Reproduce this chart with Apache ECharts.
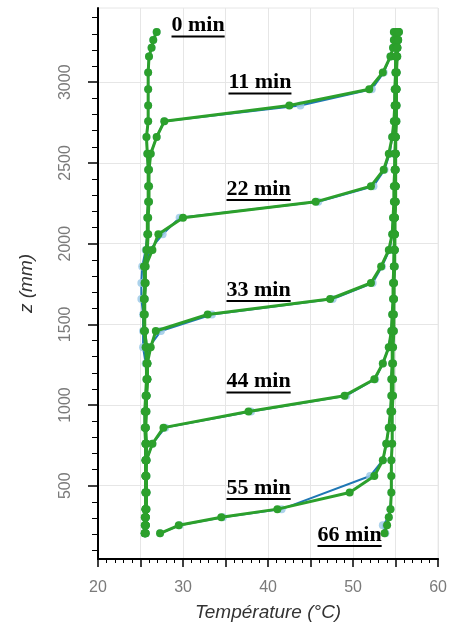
<!DOCTYPE html>
<html><head><meta charset="utf-8">
<script src="https://cdn.jsdelivr.net/npm/echarts@6/dist/echarts.min.js"></script>
<style>html,body{margin:0;padding:0;background:#fff}#c{width:450px;height:627px}</style>
</head><body><div id="c"></div>
<script>
// Sensor heights (mm)
const Z = [205, 255, 305, 355, 458, 560, 658, 760, 860, 960, 1058, 1160, 1258, 1358, 1459, 1561, 1657, 1756, 1859, 1961, 2058, 2160, 2259, 2356, 2458, 2557, 2661, 2758, 2856, 2957, 3060, 3160, 3213, 3262, 3312];

// Green profiles (°C) at each height
const G_00 = [25.5, 25.5, 25.5, 25.6, 25.6, 25.6, 25.6, 25.6, 25.5, 25.5, 25.6, 25.7, 25.7, 25.6, 25.4, 25.4, 25.4, 25.5, 25.4, 25.7, 25.8, 25.8, 25.9, 25.9, 25.9, 25.8, 25.7, 25.9, 25.9, 25.9, 25.9, 26.0, 26.3, 26.5, 26.9];
const G_11 = [25.5, 25.6, 25.6, 25.7, 25.7, 25.6, 25.7, 25.7, 25.6, 25.6, 25.7, 25.8, 25.8, 25.7, 25.5, 25.5, 25.5, 25.6, 25.5, 25.8, 25.9, 25.9, 26.0, 26.0, 26.0, 26.2, 26.9, 27.8, 42.5, 51.9, 53.5, 54.4, 54.7, 54.8, 54.8];
const G_22 = [25.6, 25.6, 25.6, 25.6, 25.7, 25.7, 25.6, 25.6, 25.6, 25.7, 25.7, 25.8, 25.8, 25.7, 25.5, 25.4, 25.4, 25.5, 25.6, 26.4, 27.1, 30.0, 45.6, 52.1, 53.6, 54.2, 54.6, 54.8, 54.9, 54.9, 55.0, 55.0, 55.1, 55.1, 55.2];
const G_33 = [25.6, 25.6, 25.6, 25.6, 25.6, 25.6, 25.6, 25.6, 25.6, 25.6, 25.7, 25.8, 25.8, 26.2, 26.8, 32.9, 47.3, 52.1, 53.3, 54.2, 54.6, 54.7, 54.8, 54.8, 54.9, 54.9, 55.0, 55.0, 54.9, 55.0, 55.0, 55.1, 55.1, 55.2, 55.2];
const G_44 = [25.5, 25.6, 25.6, 25.6, 25.6, 25.6, 25.7, 26.4, 27.7, 37.7, 49.0, 52.5, 53.5, 54.2, 54.5, 54.6, 54.7, 54.7, 54.8, 54.8, 54.9, 54.9, 54.9, 55.0, 54.9, 55.0, 55.0, 55.0, 55.0, 55.1, 55.1, 55.1, 55.2, 55.2, 55.3];
const G_55 = [27.3, 29.5, 34.5, 41.1, 49.6, 52.5, 53.5, 53.9, 54.2, 54.4, 54.5, 54.5, 54.6, 54.6, 54.7, 54.7, 54.8, 54.8, 54.8, 54.9, 54.9, 54.9, 55.0, 55.0, 55.0, 55.0, 55.0, 55.1, 55.1, 55.1, 55.1, 55.2, 55.2, 55.3, 55.3];
const G_66 = [53.7, 54.0, 54.2, 54.4, 54.5, 54.5, 54.5, 54.6, 54.6, 54.6, 54.7, 54.7, 54.7, 54.7, 54.8, 54.8, 54.8, 54.8, 54.9, 54.9, 54.9, 54.9, 55.0, 55.0, 55.0, 55.0, 55.0, 55.0, 55.1, 55.1, 55.1, 55.1, 55.2, 55.3, 55.4];

// Blue profiles (°C), null = no reading
const B_00 = [25.5, 25.5, 25.5, 25.6, 25.6, 25.6, 25.6, 25.6, 25.5, 25.5, 25.6, 25.7, 25.6, 25.3, 25.3, 25.3, 25.1, 25.1, 25.2, 25.6, 25.8, 25.8, 25.9, 25.9, 25.9, 25.8, 25.7, 25.9, 25.9, 25.9, 25.9, 26.0, 26.3, 26.5, 26.9];
const B_11 = [25.5, 25.6, 25.6, 25.7, 25.7, 25.6, 25.7, 25.7, 25.6, 25.6, 25.7, 25.8, 25.8, 25.7, 25.5, 25.5, 25.5, 25.6, 25.5, 25.8, 25.9, 25.9, 26.0, 26.0, 26.0, 26.2, 26.9, 27.8, 43.8, 52.2, 53.6, 54.4, 54.7, 54.8, 54.8];
const B_22 = [25.6, 25.6, 25.6, 25.6, 25.7, 25.7, 25.6, 25.6, 25.6, 25.7, 25.7, 25.8, 25.8, 25.7, 25.5, 25.4, 25.4, 25.5, 25.6, 26.1, 27.6, 29.6, 45.9, 52.4, 53.7, 54.3, 54.6, 54.8, 54.9, 54.9, 55.0, 55.0, 55.1, 55.1, 55.2];
const B_33 = [25.6, 25.6, 25.6, 25.6, 25.6, 25.6, 25.6, 25.6, 25.6, 25.6, 25.7, 25.8, 25.8, 26.0, 27.4, 33.4, 47.6, 52.3, 53.4, 54.3, 54.6, 54.7, 54.8, 54.8, 54.9, 54.9, 55.0, 55.0, 54.9, 55.0, 55.0, 55.1, 55.1, 55.2, 55.2];
const B_44 = [25.5, 25.6, 25.6, 25.6, 25.6, 25.6, 25.7, 26.4, 27.9, 38.0, 49.2, 52.6, 53.5, 54.2, 54.5, 54.6, 54.7, 54.7, 54.8, 54.8, 54.9, 54.9, 54.9, 55.0, 54.9, 55.0, 55.0, 55.0, 55.0, 55.1, 55.1, 55.1, 55.2, 55.2, 55.3];
const B_55 = [27.3, 29.6, 34.7, 41.6, null, 52.0, 53.5, 53.9, 54.2, 54.4, 54.5, 54.5, 54.6, 54.6, 54.7, 54.7, 54.8, 54.8, 54.8, 54.9, 54.9, 54.9, 55.0, 55.0, 55.0, 55.0, 55.0, 55.1, 55.1, 55.1, 55.1, 55.2, 55.2, 55.3, 55.3];
const B_66 = [53.8, 53.5, 54.2, 54.4, 54.5, 54.5, 54.5, 54.6, 54.6, 54.6, 54.7, 54.7, 54.7, 54.7, 54.8, 54.8, 54.8, 54.8, 54.9, 54.9, 54.9, 54.9, 55.0, 55.0, 55.0, 55.0, 55.0, 55.0, 55.1, 55.1, 55.1, 55.1, 55.2, 55.3, 55.4];

const TIME_LABELS = ['0 min', '11 min', '22 min', '33 min', '44 min', '55 min', '66 min'];
const GREEN = [G_00, G_11, G_22, G_33, G_44, G_55, G_66];
const BLUE = [B_00, B_11, B_22, B_33, B_44, B_55, B_66];

const X_MIN = 20, X_MAX = 60;
const Y_MIN = 46, Y_MAX = 3460;
const Y_MAJOR = [500, 1000, 1500, 2000, 2500, 3000];
const Y_MINOR = [100, 200, 300, 400, 600, 700, 800, 900, 1100, 1200, 1300, 1400, 1600, 1700, 1800, 1900, 2100, 2200, 2300, 2400, 2600, 2700, 2800, 2900, 3100, 3200, 3300, 3400];

// annotation placement (pixels: left, baseline)
const LABEL_POS = [[171.5, 31.5], [228.5, 88.5], [226.5, 195], [226.5, 296], [226.5, 387.5], [226.5, 494], [317.5, 541]];

function toPairs(T) {
  const out = [];
  T.forEach((t, i) => { if (t !== null) out.push([t, Z[i]]); });
  return out;
}

const series = [];
BLUE.forEach((T, k) => {
  series.push({
    name: 'B ' + TIME_LABELS[k], type: 'line', data: toPairs(T),
    xAxisIndex: 0, yAxisIndex: 0,
    symbol: 'circle', symbolSize: 8, showSymbol: true,
    lineStyle: { color: '#1f77b4', width: 2 },
    itemStyle: { color: 'rgba(158,202,232,0.85)' },
    z: 2, animation: false, silent: true
  });
});
GREEN.forEach((T, k) => {
  series.push({
    name: TIME_LABELS[k], type: 'line', data: toPairs(T),
    xAxisIndex: 0, yAxisIndex: 0,
    symbol: 'circle', symbolSize: 8, showSymbol: true,
    lineStyle: { color: '#2ca02c', width: 3 },
    itemStyle: { color: '#2ca02c' },
    z: 3, animation: false, silent: true
  });
});

const labelFont = 'bold 22px "Liberation Serif", "Times New Roman", serif';
const cv = document.createElement('canvas').getContext('2d');
cv.font = labelFont;
const graphics = [];
TIME_LABELS.forEach((t, k) => {
  const [lx, by] = LABEL_POS[k];
  const w = cv.measureText(t).width;
  graphics.push({ type: 'text', x: lx, y: by + 5, z: 10,
    style: { text: t, font: labelFont, fill: '#000', verticalAlign: 'bottom', align: 'left' } });
  graphics.push({ type: 'rect', x: lx, y: by + 4, z: 10,
    shape: { x: 0, y: 0, width: w, height: 2 }, style: { fill: '#000' } });
});

const chart = echarts.init(document.getElementById('c'));
chart.setOption({
  animation: false,
  backgroundColor: '#fff',
  grid: { left: 98, right: 5, top: 8, bottom: 64, show: true, borderColor: '#e6e6e6', borderWidth: 1, containLabel: false },
  xAxis: [{
    type: 'value', min: X_MIN, max: X_MAX, interval: 5, position: 'bottom',
    axisLine: { show: true, onZero: false, lineStyle: { color: '#000', width: 2 } },
    axisTick: { show: true, length: 8, lineStyle: { color: '#000', width: 1.5 } },
    minorTick: { show: true, splitNumber: 5, length: 4, lineStyle: { color: '#000', width: 1 } },
    axisLabel: { margin: 21, color: '#7a7a7a', fontSize: 16, fontFamily: 'Liberation Sans, Arial, sans-serif',
      formatter: v => (v % 10 === 0 ? String(v) : '') },
    splitLine: { show: true, lineStyle: { color: '#e6e6e6', width: 1 } },
    name: 'Température (°C)', nameLocation: 'middle', nameGap: 44,
    nameTextStyle: { fontStyle: 'italic', fontSize: 19, color: '#333', fontFamily: 'Liberation Sans, Arial, sans-serif' }
  }],
  yAxis: [{
    type: 'value', min: Y_MIN, max: Y_MAX, position: 'left',
    axisLine: { show: true, onZero: false, lineStyle: { color: '#000', width: 2 } },
    axisTick: { show: true, customValues: Y_MAJOR, length: 10, lineStyle: { color: '#000', width: 1.5 } },
    axisLabel: { customValues: Y_MAJOR, rotate: 90, margin: 24, color: '#7a7a7a', fontSize: 16, fontFamily: 'Liberation Sans, Arial, sans-serif',
      formatter: v => String(v) },
    splitLine: { show: true, lineStyle: { color: '#e6e6e6', width: 1 } },
    name: 'z (mm)', nameLocation: 'middle', nameGap: 62, nameRotate: 90,
    nameTextStyle: { fontStyle: 'italic', fontSize: 19, color: '#333', fontFamily: 'Liberation Sans, Arial, sans-serif' }
  }, {
    type: 'value', min: Y_MIN, max: Y_MAX, position: 'left',
    axisLine: { show: false, onZero: false },
    axisTick: { show: true, customValues: Y_MINOR, length: 6, lineStyle: { color: '#000', width: 1 } },
    axisLabel: { show: false },
    splitLine: { show: false }
  }],
  series: series,
  graphic: graphics
});
</script>
</body></html>
